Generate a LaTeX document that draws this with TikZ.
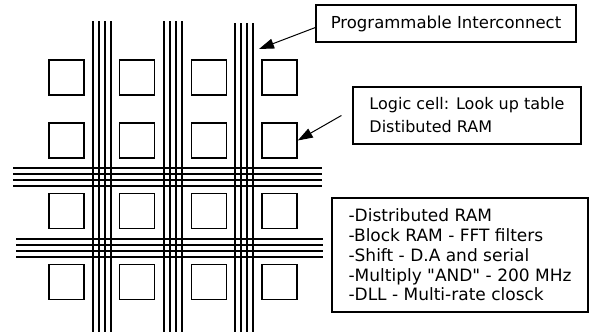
\documentclass[tikz,border=0pt]{standalone}
\usepackage{fontspec}
\newfontfamily\notefont{DejaVu Sans}
\usetikzlibrary{arrows.meta, positioning}

\tikzset{
  cell/.style={draw, line width=1.5pt, minimum size=35pt, inner sep=0pt},
  wire/.style={line width=1.6pt},
  note/.style={draw, line width=1.2pt, align=left, font=\notefont\fontsize{16}{23}\selectfont},
  arr/.style={line width=1pt, -{Triangle[length=15pt, width=10pt]}}
}

\begin{document}
\begin{tikzpicture}[x=1pt, y=-1pt]
    \useasboundingbox (0,0) rectangle (591,332);

    % logic cells
    \foreach \r/\y in {1/77.5, 2/140.5, 3/211, 4/282} {
        \foreach \c/\x in {1/66.5, 2/137, 3/209, 4/279.5} {
            \node[cell] (c\r\c) at (\x,\y) {};
        }
    }

    % vertical interconnect
    \foreach \x in {93, 99, 105, 111, 164, 170, 176, 182} \draw[wire] (\x,21) -- (\x,332);
    \foreach \x in {235, 241, 247, 253} \draw[wire] (\x,23) -- (\x,332);

    % horizontal interconnect
    \foreach \y in {168, 174, 180, 186} \draw[wire] (13,\y) -- (322,\y);
    \foreach \y in {239, 245, 251, 257} \draw[wire] (16,\y) -- (323,\y);

    % notes
    \node[note, minimum width=260pt, minimum height=37pt, font=\notefont\fontsize{16.5}{20}\selectfont] (prog) at (446,23.5) {Programmable Interconnect};
    \node[note, minimum width=228pt, minimum height=57pt] (logic) at (467,115.5) {Logic cell: Look up table\\Distibuted RAM};
    \node[note, minimum width=256pt, minimum height=114pt, font=\notefont\fontsize{17}{19.8}\selectfont] (feat) at (460,255)
        {-Distributed RAM\\-Block RAM - FFT filters\\-Shift - D.A and serial\\-Multiply "AND" - 200 MHz\\-DLL - Multi-rate closck};

    \coordinate (wiretip) at (259,49);
    \draw[arr] ([yshift=-4pt]prog.west) -- (wiretip);
    \draw[arr] ([xshift=-11pt]logic.west) -- (c24.east);
\end{tikzpicture}
\end{document}
